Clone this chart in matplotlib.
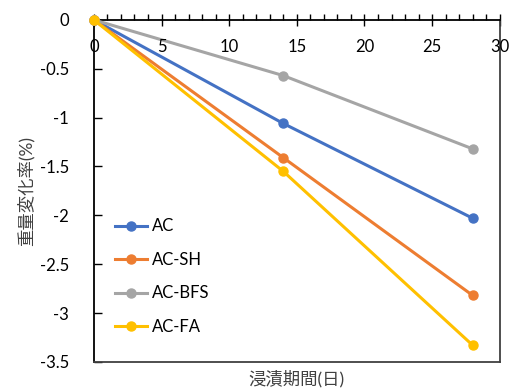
import matplotlib.pyplot as plt
from matplotlib.ticker import MultipleLocator

plt.rcParams['font.family'] = ['Lato', 'Noto Sans CJK JP', 'DejaVu Sans']

# immersion period (days) and mass change (%)
days = [0, 14, 28]
series_names = ['AC', 'AC-SH', 'AC-BFS', 'AC-FA']
ac = [0, -1.06, -2.03]
ac_sh = [0, -1.41, -2.82]
ac_bfs = [0, -0.57, -1.32]
ac_fa = [0, -1.55, -3.33]
colors = ['#4472C4', '#ED7D31', '#A5A5A5', '#FFC000']

fig = plt.figure(figsize=(5.1, 3.9), dpi=100)
ax = fig.add_axes([0.184, 0.072, 0.796, 0.877])

for vals, name, c in zip([ac, ac_sh, ac_bfs, ac_fa], series_names, colors):
    ax.plot(days, vals, color=c, lw=2.2, marker='o', ms=6.5, label=name,
            clip_on=False, zorder=3)

ax.set_xlim(0, 30)
ax.set_ylim(-3.5, 0)
ax.xaxis.set_major_locator(MultipleLocator(5))
ax.xaxis.set_minor_locator(MultipleLocator(1))
ax.set_yticks([0, -0.5, -1, -1.5, -2, -2.5, -3, -3.5])
ax.set_yticklabels(['0', '-0.5', '-1', '-1.5', '-2', '-2.5', '-3', '-3.5'])

# x axis drawn along y = 0 (top edge), labels sit just below it
ax.xaxis.set_ticks_position('top')
ax.tick_params(axis='x', which='major', direction='inout', length=8, width=1,
               labeltop=False, labelbottom=False)
ax.tick_params(axis='x', which='minor', direction='out', length=4, width=1)
for x in range(0, 31, 5):
    ax.text(x, -0.2, str(x), ha='center', va='top', fontsize=12)

ax.tick_params(axis='y', direction='in', length=6, width=1, labelsize=12, pad=18)

for s in ['left', 'top']:
    ax.spines[s].set_color('black')
    ax.spines[s].set_linewidth(1.3)
for s in ['right', 'bottom']:
    ax.spines[s].set_color('#404040')
    ax.spines[s].set_linewidth(1.3)

ax.set_xlabel('浸漬期間(日)', fontsize=12.5, labelpad=6, color='#404040')
ax.set_ylabel('重量変化率(%)', fontsize=12.5, labelpad=4, color='#404040')

ax.legend(loc='lower left', bbox_to_anchor=(0.015, 0.035), frameon=False,
          fontsize=12, handlelength=1.9, handletextpad=0.3, labelspacing=1.05)

fig.savefig('out.png', dpi=100)
